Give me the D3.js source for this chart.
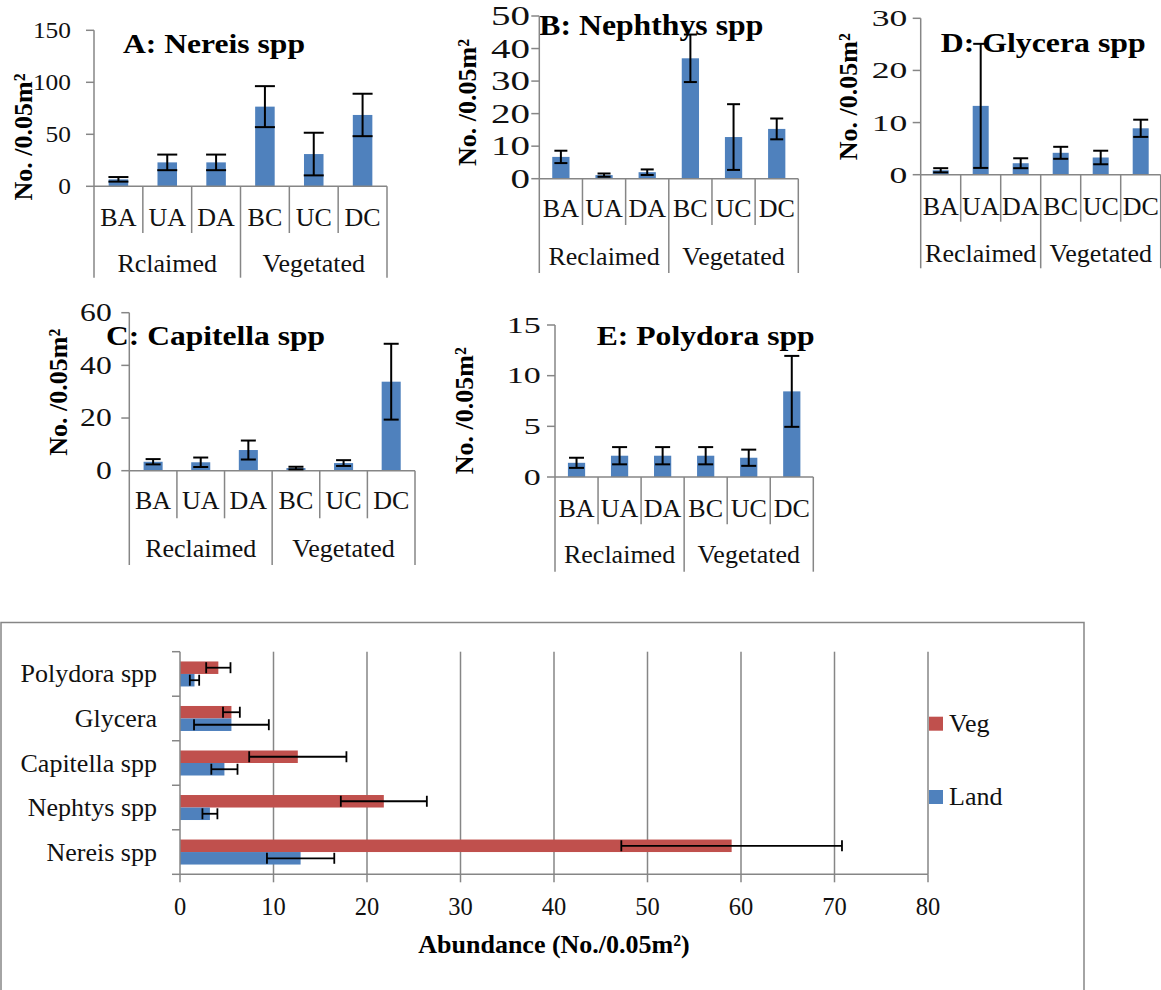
<!DOCTYPE html>
<html>
<head>
<meta charset="utf-8">
<script src="https://cdn.jsdelivr.net/npm/d3@7"></script>
<style>
  body { margin: 0; background: #fff; }
  svg { display: block; font-family: "Liberation Serif", "Times New Roman", serif; }
</style>
</head>
<body>
<svg id="fig" width="1161" height="990"></svg>
<script>
// ---- Site-level abundance (mean ± SE, individuals per 0.05 m²) ----
const sites = ["BA", "UA", "DA", "BC", "UC", "DC"];
const habitats = ["Reclaimed", "Vegetated"];
const habitatsA = ["Rclaimed", "Vegetated"];

const nereisMean = [6.7, 23, 23, 76.6, 31, 68.6];
const nereisErr = [2.2, 7.5, 7.5, 19.7, 20.5, 20.4];
const nephthysMean = [6.7, 1.1, 2.0, 37.0, 12.8, 15.3];
const nephthysErr = [1.9, 0.5, 0.85, 7.3, 10.1, 3.2];
const capitellaMean = [3.4, 3.2, 7.85, 1.0, 2.9, 33.8];
const capitellaErr = [1.0, 1.8, 3.6, 0.5, 1.1, 14.4];
const glyceraMean = [0.85, 13.2, 2.2, 4.2, 3.3, 8.9];
const glyceraErr = [0.4, 11.9, 0.95, 1.15, 1.3, 1.65];
const polydoraMean = [1.4, 2.1, 2.1, 2.1, 1.9, 8.45];
const polydoraErr = [0.5, 0.85, 0.85, 0.85, 0.8, 3.5];

const ticksA = [0, 50, 100, 150];
const ticksB = [0, 10, 20, 30, 40, 50];
const ticksC = [0, 20, 40, 60];
const ticksD = [0, 10, 20, 30];
const ticksE = [0, 5, 10, 15];

// ---- Habitat-level abundance per taxon ----
const species = ["Nereis spp", "Nephtys spp", "Capitella spp", "Glycera", "Polydora spp"];
const vegMean = [59.0, 21.8, 12.6, 5.5, 4.1];
const vegErr = [11.8, 4.6, 5.2, 0.9, 1.3];
const landMean = [12.9, 3.2, 4.75, 5.5, 1.55];
const landErr = [3.6, 0.8, 1.4, 4.0, 0.5];
const seriesNames = ["Veg", "Land"];
const abundanceTicks = [0, 10, 20, 30, 40, 50, 60, 70, 80];

// ---- styling ----
const BLUE = "#4F81BD", RED = "#C0504D", AXIS = "#868686";
const svg = d3.select("#fig");

// Panel frames (pixel layout only)
const panels = [
  { title: "A: Nereis spp", mean: nereisMean, err: nereisErr, ticks: ticksA, groups: habitatsA,
    left: 94, right: 387, top: 30.3, base: 186.3, sepY: 233, grpY: 277.7, catY: 226, grpLabelY: 271.7,
    tickRight: 71, digitW: 12.7, tickFont: 23.5, titleX: 123, titleY: 53.3, titleW: 182, titleFont: 27.5,
    ytX: 32, ytY: 137, cap: 20 },
  { title: "B: Nephthys spp", mean: nephthysMean, err: nephthysErr, ticks: ticksB, groups: habitats,
    left: 539.3, right: 798.3, top: 16, base: 178.7, sepY: 225, grpY: 273, catY: 217.3, grpLabelY: 265,
    tickRight: 530, digitW: 19.5, tickFont: 26.5, titleX: 539.3, titleY: 35, titleW: 224, titleFont: 30,
    ytX: 476, ytY: 102.5, cap: 13 },
  { title: "D: Glycera spp", mean: glyceraMean, err: glyceraErr, ticks: ticksD, groups: habitats,
    left: 920.7, right: 1160.7, top: 18.3, base: 174.7, sepY: 221.7, grpY: 268.3, catY: 215, grpLabelY: 261.7,
    tickRight: 907.3, digitW: 17.8, tickFont: 23.5, titleX: 940.7, titleY: 52.3, titleW: 205, titleFont: 26.5,
    ytX: 857, ytY: 96.7, cap: 15 },
  { title: "C: Capitella spp", mean: capitellaMean, err: capitellaErr, ticks: ticksC, groups: habitats,
    left: 129.3, right: 415, top: 312.7, base: 470.7, sepY: 518.3, grpY: 565, catY: 509, grpLabelY: 556.7,
    tickRight: 111.7, digitW: 15.8, tickFont: 24.5, titleX: 106, titleY: 345, titleW: 219, titleFont: 27.5,
    ytX: 66.7, ytY: 392.3, cap: 15 },
  { title: "E: Polydora spp", mean: polydoraMean, err: polydoraErr, ticks: ticksE, groups: habitats,
    left: 555, right: 813.3, top: 325, base: 477, sepY: 524.3, grpY: 571.7, catY: 516.7, grpLabelY: 563.3,
    tickRight: 540.7, digitW: 17, tickFont: 23, titleX: 596.7, titleY: 345, titleW: 218, titleFont: 27,
    ytX: 473.3, ytY: 410.8, cap: 15 }
];

function drawSitePanel(p) {
  const g = svg.append("g");
  const x = d3.scaleBand().domain(sites).range([p.left, p.right]).paddingInner(0).paddingOuter(0);
  const y = d3.scaleLinear().domain([0, d3.max(p.ticks)]).range([p.base, p.top]);
  const bw = x.bandwidth() * 0.4;

  // title (drawn first so the marks sit above it)
  g.append("text")
    .attr("x", p.titleX).attr("y", p.titleY)
    .attr("font-size", p.titleFont).attr("font-weight", "bold")
    .attr("textLength", p.titleW).attr("lengthAdjust", "spacingAndGlyphs")
    .text(p.title);

  // y-axis title
  g.append("text")
    .attr("transform", `translate(${p.ytX},${p.ytY}) rotate(-90)`)
    .attr("text-anchor", "middle")
    .attr("font-size", 26).attr("font-weight", "bold")
    .text("No. /0.05m²");

  // y axis line and ticks
  g.append("line").attr("x1", p.left).attr("x2", p.left).attr("y1", p.top).attr("y2", p.base)
    .attr("stroke", AXIS).attr("stroke-width", 1.5);
  g.selectAll(".yt").data(p.ticks).join("line")
    .attr("x1", p.left - 8).attr("x2", p.left)
    .attr("y1", d => y(d)).attr("y2", d => y(d))
    .attr("stroke", AXIS).attr("stroke-width", 1.5);
  g.selectAll(".yl").data(p.ticks).join("text")
    .attr("x", d => p.tickRight - String(d).length * p.digitW)
    .attr("y", d => y(d) + 0.34 * p.tickFont)
    .attr("font-size", p.tickFont)
    .attr("textLength", d => String(d).length * p.digitW)
    .attr("lengthAdjust", "spacingAndGlyphs")
    .attr("fill", "#111")
    .text(d => d);

  // bars
  g.selectAll(".bar").data(sites).join("rect")
    .attr("x", (d) => x(d) + (x.bandwidth() - bw) / 2)
    .attr("width", bw)
    .attr("y", (d, i) => y(p.mean[i]))
    .attr("height", (d, i) => p.base - y(p.mean[i]))
    .attr("fill", BLUE);

  // x axis line with category separators
  g.append("line").attr("x1", p.left).attr("x2", p.right).attr("y1", p.base).attr("y2", p.base)
    .attr("stroke", AXIS).attr("stroke-width", 1.5);
  const bounds = d3.range(sites.length + 1);
  g.selectAll(".sep").data(bounds).join("line")
    .attr("x1", i => p.left + i * x.step()).attr("x2", i => p.left + i * x.step())
    .attr("y1", p.base)
    .attr("y2", i => (i % 3 === 0 ? p.grpY : p.sepY))
    .attr("stroke", AXIS).attr("stroke-width", 1.5);

  // category labels
  g.selectAll(".cat").data(sites).join("text")
    .attr("x", d => x(d) + x.bandwidth() / 2)
    .attr("y", p.catY)
    .attr("text-anchor", "middle").attr("font-size", 26).attr("fill", "#111")
    .text(d => d);

  // habitat group labels
  g.selectAll(".grp").data(p.groups).join("text")
    .attr("x", (d, i) => p.left + (i * 3 + 1.5) * x.step())
    .attr("y", p.grpLabelY)
    .attr("text-anchor", "middle").attr("font-size", 26).attr("fill", "#111")
    .text(d => d);

  // error bars
  const eb = g.selectAll(".eb").data(sites).join("g");
  eb.append("line")
    .attr("x1", d => x(d) + x.bandwidth() / 2).attr("x2", d => x(d) + x.bandwidth() / 2)
    .attr("y1", (d, i) => y(p.mean[i] + p.err[i])).attr("y2", (d, i) => y(Math.max(0, p.mean[i] - p.err[i])))
    .attr("stroke", "#000").attr("stroke-width", 2);
  [1, -1].forEach(s => {
    eb.append("line")
      .attr("x1", d => x(d) + x.bandwidth() / 2 - p.cap / 2)
      .attr("x2", d => x(d) + x.bandwidth() / 2 + p.cap / 2)
      .attr("y1", (d, i) => y(Math.max(0, p.mean[i] + s * p.err[i])))
      .attr("y2", (d, i) => y(Math.max(0, p.mean[i] + s * p.err[i])))
      .attr("stroke", "#000").attr("stroke-width", 2);
  });
}

panels.forEach(drawSitePanel);

// ---- Habitat comparison (horizontal clustered bars) ----
(function () {
  const g = svg.append("g");
  const L = 180, R = 928, T = 651.7, B = 874.3;

  // chart frame
  g.append("rect").attr("x", 1).attr("y", 622.5).attr("width", 1083).attr("height", 420)
    .attr("fill", "none").attr("stroke", AXIS).attr("stroke-width", 1.5);

  const x = d3.scaleLinear().domain([0, 80]).range([L, R]);
  const y = d3.scaleBand().domain(species.slice().reverse()).range([T, B]);
  const bh = 12.5;

  // vertical gridlines
  g.selectAll(".grid").data(abundanceTicks.slice(1)).join("line")
    .attr("x1", d => x(d)).attr("x2", d => x(d)).attr("y1", T).attr("y2", B)
    .attr("stroke", AXIS).attr("stroke-width", 1.5);

  // bars: Veg above, Land below within each category
  const series = [
    { name: seriesNames[0], mean: vegMean, err: vegErr, color: RED, off: -bh },
    { name: seriesNames[1], mean: landMean, err: landErr, color: BLUE, off: 0 }
  ];
  series.forEach(s => {
    g.selectAll(null).data(species).join("rect")
      .attr("x", x(0))
      .attr("y", d => y(d) + y.bandwidth() / 2 + s.off)
      .attr("height", bh)
      .attr("width", (d, i) => x(s.mean[i]) - x(0))
      .attr("fill", s.color);
  });

  // axes
  g.append("line").attr("x1", L).attr("x2", L).attr("y1", T).attr("y2", B)
    .attr("stroke", AXIS).attr("stroke-width", 1.5);
  g.selectAll(".yt").data(d3.range(species.length + 1)).join("line")
    .attr("x1", L - 8).attr("x2", L)
    .attr("y1", i => T + i * y.step()).attr("y2", i => T + i * y.step())
    .attr("stroke", AXIS).attr("stroke-width", 1.5);
  g.append("line").attr("x1", L).attr("x2", R).attr("y1", B).attr("y2", B)
    .attr("stroke", AXIS).attr("stroke-width", 1.5);
  g.selectAll(".xt").data(abundanceTicks).join("line")
    .attr("x1", d => x(d)).attr("x2", d => x(d)).attr("y1", B).attr("y2", B + 8)
    .attr("stroke", AXIS).attr("stroke-width", 1.5);

  // error bars
  series.forEach(s => {
    const eg = g.selectAll(null).data(species).join("g");
    const cy = d => y(d) + y.bandwidth() / 2 + s.off + bh / 2;
    eg.append("line")
      .attr("x1", (d, i) => x(s.mean[i] - s.err[i])).attr("x2", (d, i) => x(s.mean[i] + s.err[i]))
      .attr("y1", cy).attr("y2", cy).attr("stroke", "#000").attr("stroke-width", 1.8);
    [-1, 1].forEach(k => {
      eg.append("line")
        .attr("x1", (d, i) => x(s.mean[i] + k * s.err[i])).attr("x2", (d, i) => x(s.mean[i] + k * s.err[i]))
        .attr("y1", d => cy(d) - 5.5).attr("y2", d => cy(d) + 5.5)
        .attr("stroke", "#000").attr("stroke-width", 1.8);
    });
  });

  // labels
  g.selectAll(".cl").data(species).join("text")
    .attr("x", 157).attr("y", d => y(d) + y.bandwidth() / 2 + 8.5)
    .attr("text-anchor", "end").attr("font-size", 26).attr("fill", "#111")
    .text(d => d);
  g.selectAll(".xl").data(abundanceTicks).join("text")
    .attr("x", d => x(d)).attr("y", 915)
    .attr("text-anchor", "middle").attr("font-size", 24.5).attr("fill", "#111")
    .text(d => d);
  g.append("text").attr("x", 554).attr("y", 953)
    .attr("text-anchor", "middle").attr("font-size", 26).attr("font-weight", "bold")
    .text("Abundance (No./0.05m²)");

  // legend
  const leg = g.selectAll(".leg").data(series).join("g")
    .attr("transform", (d, i) => `translate(929,${716.7 + i * 73.3})`);
  leg.append("rect").attr("width", 14).attr("height", 14).attr("fill", d => d.color);
  leg.append("text").attr("x", 20).attr("y", 15).attr("font-size", 26).attr("fill", "#111")
    .text(d => d.name);
})();
</script>
</body>
</html>
